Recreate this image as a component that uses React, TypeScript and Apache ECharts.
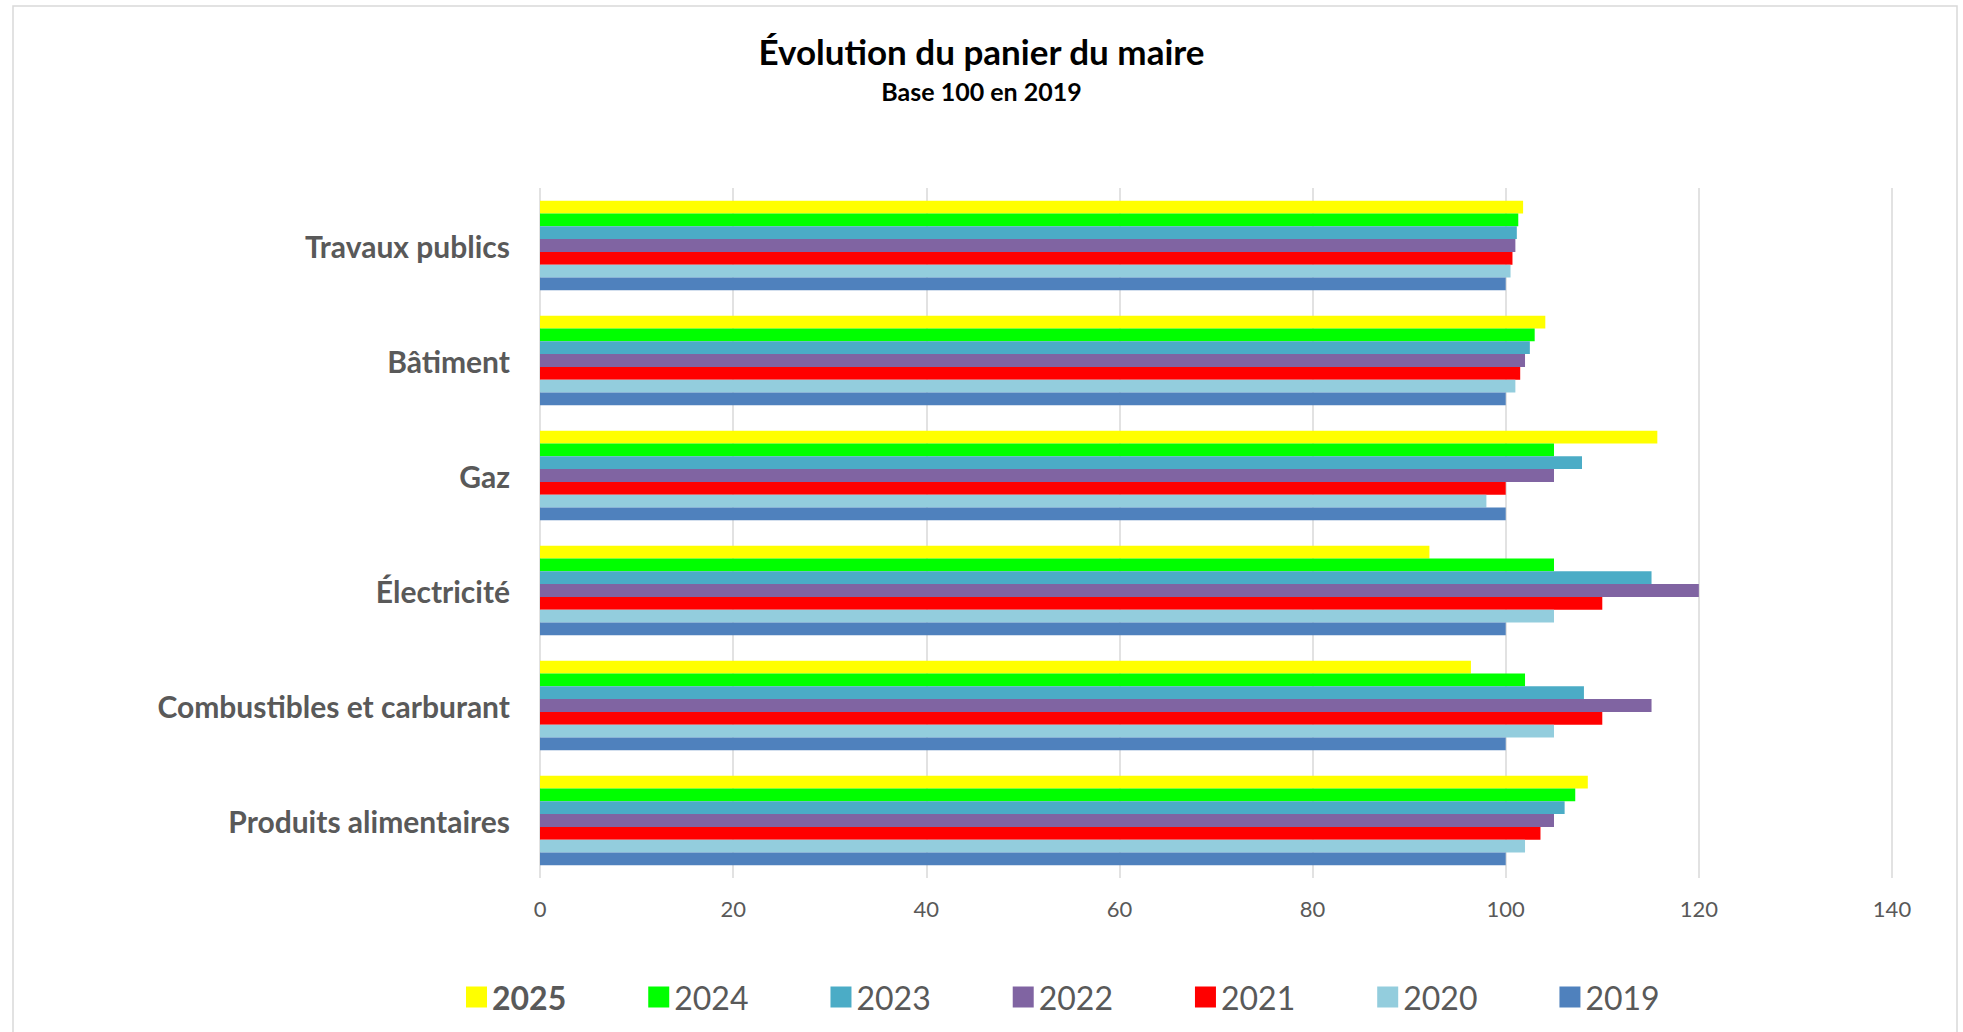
import React, { useEffect, useRef } from "react";
import * as echarts from "echarts";

const categories = [
  "Produits alimentaires",
  "Combustibles et carburant",
  "Électricité",
  "Gaz",
  "Bâtiment",
  "Travaux publics",
];

const years = ["2025", "2024", "2023", "2022", "2021", "2020", "2019"];

const v2025 = [108.5, 96.4, 92.1, 115.7, 104.1, 101.8];
const v2024 = [107.2, 102.0, 105.0, 105.0, 103.0, 101.3];
const v2023 = [106.1, 108.1, 115.1, 107.9, 102.5, 101.15];
const v2022 = [105.0, 115.1, 120.0, 105.0, 102.0, 101.0];
const v2021 = [103.6, 110.0, 110.0, 100.0, 101.5, 100.7];
const v2020 = [102.0, 105.0, 105.0, 98.0, 101.0, 100.5];
const v2019 = [100.0, 100.0, 100.0, 100.0, 100.0, 100.0];

const seriesValues = [v2025, v2024, v2023, v2022, v2021, v2020, v2019];
const colors = ["#FFFF00", "#00FF00", "#4BACC6", "#8064A2", "#FF0000", "#93CDDD", "#4F81BD"];

const xTicks = { min: 0, max: 140, interval: 20 };

const FONT = "Lato, 'Open Sans', sans-serif";

export default function App() {
  const ref = useRef<HTMLDivElement>(null);

  useEffect(() => {
    document.body.style.margin = "0";
    const chart = echarts.init(ref.current!, null, { renderer: "svg" });
    chart.setOption({
      animation: false,
      backgroundColor: "#ffffff",
      textStyle: { fontFamily: FONT },
      title: {
        text: "Évolution du panier du maire",
        subtext: "Base 100 en 2019",
        left: "center",
        top: 28,
        itemGap: 10,
        textStyle: { fontFamily: FONT, fontSize: 35, fontWeight: "bold", color: "#000000" },
        subtextStyle: { fontFamily: FONT, fontSize: 25, fontWeight: "bold", color: "#000000" },
      },
      graphic: [
        {
          type: "rect",
          shape: { x: 13, y: 6, width: 1944, height: 1100 },
          style: { fill: "none", stroke: "#d9d9d9", lineWidth: 1.5 },
          silent: true,
        },
      ],
      legend: {
        left: 461,
        top: 976,
        itemWidth: 21,
        itemHeight: 21,
        itemGap: 82,
        icon: "rect",
        textStyle: { fontFamily: FONT, fontSize: 32, color: "#595959" },
        data: years.map((y, i) =>
          i === 0 ? { name: y, textStyle: { fontWeight: "bold" } } : { name: y }
        ),
      },
      grid: { left: 540, right: 71, top: 188, bottom: 154, containLabel: false },
      xAxis: {
        type: "value",
        min: xTicks.min,
        max: xTicks.max,
        interval: xTicks.interval,
        axisLine: { show: false },
        axisTick: { show: false },
        splitLine: { show: true, lineStyle: { color: "#d9d9d9", width: 1.5 } },
        axisLabel: { fontFamily: FONT, fontSize: 22, color: "#595959", margin: 19 },
      },
      yAxis: {
        type: "category",
        data: categories,
        axisLine: { show: false },
        axisTick: { show: false },
        axisLabel: {
          fontFamily: FONT,
          fontSize: 30,
          fontWeight: "bold",
          color: "#595959",
          margin: 30,
        },
      },
      series: years.map((y, i) => ({
        name: y,
        type: "bar",
        data: seriesValues[i],
        itemStyle: { color: colors[i] },
        barGap: "0%",
        barCategoryGap: "22%",
      })),
    });
    return () => chart.dispose();
  }, []);

  return <div ref={ref} style={{ width: 1963, height: 1032 }} />;
}
